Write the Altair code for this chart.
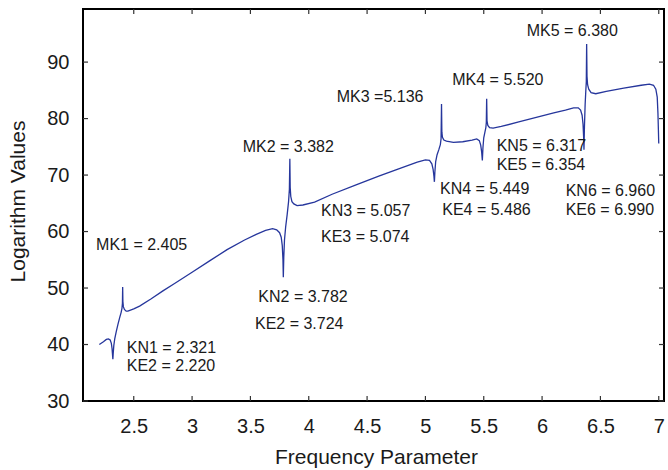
import altair as alt
import pandas as pd

# ---- data ----
curve_x = [2.205, 2.24, 2.265, 2.283, 2.298, 2.308, 2.314, 2.318, 2.321, 2.324, 2.329, 2.337, 2.35, 2.365,
           2.38, 2.392, 2.399, 2.403, 2.405, 2.407, 2.411, 2.42, 2.435, 2.45, 2.5, 2.55, 2.65, 2.75, 2.85,
           3.0, 3.15, 3.3, 3.45, 3.55, 3.63, 3.69, 3.725, 3.75, 3.764, 3.773, 3.779, 3.782, 3.786, 3.792,
           3.802, 3.815, 3.827, 3.834, 3.838, 3.841, 3.846, 3.856, 3.872, 3.9, 3.95, 4.05, 4.2, 4.4, 4.6,
           4.8, 4.93, 5.0, 5.035, 5.055, 5.066, 5.073, 5.077, 5.081, 5.088, 5.1, 5.115, 5.128, 5.134, 5.138,
           5.141, 5.146, 5.158, 5.18, 5.24, 5.32, 5.4, 5.44, 5.462, 5.474, 5.482, 5.488, 5.493, 5.5, 5.51,
           5.518, 5.522, 5.525, 5.528, 5.535, 5.55, 5.58, 5.65, 5.8, 5.95, 6.1, 6.2, 6.27, 6.31, 6.33, 6.343,
           6.351, 6.356, 6.359, 6.363, 6.369, 6.375, 6.379, 6.382, 6.385, 6.39, 6.4, 6.42, 6.46, 6.55, 6.7,
           6.85, 6.92, 6.955, 6.975, 6.987, 6.993, 6.997, 7.0]
curve_y = [40.0, 40.5, 40.9, 41.0, 40.8, 40.2, 39.3, 38.2, 37.4, 38.4, 39.8, 41.0, 42.3, 43.6,
           44.8, 45.7, 46.4, 47.3, 50.2, 47.6, 46.7, 46.2, 45.9, 45.9, 46.3, 46.8, 48.1, 49.5, 50.8,
           52.8, 54.8, 56.8, 58.5, 59.5, 60.2, 60.5, 60.3, 59.8, 59.0, 57.5, 55.0, 51.9, 55.5, 58.5,
           60.8, 63.0, 65.3, 67.5, 72.9, 67.8, 66.2, 65.3, 64.9, 64.6, 64.7, 65.2, 66.6, 68.2, 69.8,
           71.3, 72.3, 72.7, 72.6, 72.0, 71.0, 69.8, 68.8, 70.5, 72.4, 73.6, 74.5, 75.4, 76.4, 82.6,
           77.6, 76.7, 76.2, 76.0, 75.8, 75.9, 76.2, 76.4, 76.1, 75.3, 74.1, 72.6, 74.8, 76.6, 77.6,
           78.4, 79.3, 83.5, 79.6, 78.8, 78.4, 78.3, 78.6, 79.4, 80.2, 81.0, 81.5, 81.9, 81.9, 81.5, 80.6,
           79.0, 76.8, 74.5, 78.5, 82.5, 85.0, 86.5, 93.2, 87.5, 86.0, 85.2, 84.6, 84.4, 84.8, 85.4,
           85.9, 86.1, 85.9, 85.2, 83.8, 81.0, 78.0, 75.6]

label_text = ["MK1 = 2.405", "KN1 = 2.321", "KE2 = 2.220", "MK2 = 3.382", "KN2 = 3.782", "KE2 = 3.724",
              "KN3 = 5.057", "KE3 = 5.074", "MK3 =5.136", "MK4 = 5.520", "MK5 = 6.380",
              "KN4 = 5.449", "KE4 = 5.486", "KN5 = 6.317", "KE5 = 6.354", "KN6 = 6.960", "KE6 = 6.990"]
label_x = [2.177, 2.44, 2.44, 3.434, 3.568, 3.539, 4.105, 4.105, 4.24, 5.23, 5.868,
           5.125, 5.144, 5.611, 5.611, 6.202, 6.202]
label_y = [57.6, 39.3, 36.2, 75.0, 48.4, 43.7, 63.6, 59.0, 83.8, 86.9, 95.5,
           67.6, 63.8, 75.1, 71.7, 67.2, 63.9]

x_ticks = [2.5, 3, 3.5, 4, 4.5, 5, 5.5, 6, 6.5, 7]
y_ticks = [30, 40, 50, 60, 70, 80, 90]
x_domain = [2.065, 7.045]
y_domain = [30, 99.4]

W, H = 581, 392
FONT = "Liberation Sans"

curve = pd.DataFrame({"x": curve_x, "y": curve_y, "i": list(range(len(curve_x)))})
labels = pd.DataFrame({"t": label_text, "x": label_x, "y": label_y})
xt = pd.DataFrame({"v": x_ticks})
yt = pd.DataFrame({"v": y_ticks})

xs = alt.Scale(domain=x_domain, nice=False, zero=False)
ys = alt.Scale(domain=y_domain, nice=False, zero=False)

x_axis = alt.Axis(values=x_ticks, format="~g", title="Frequency Parameter", labelPadding=15,
                  titleX=293, titleY=56, titleBaseline="middle", titleAlign="center")
y_axis = alt.Axis(values=y_ticks, title="Logarithm Values", labelPadding=14,
                  titleX=-65, titleY=192, titleAngle=270, titleBaseline="middle", titleAlign="center")

line = alt.Chart(curve).mark_line(color="#26369c", strokeWidth=1.3).encode(
    x=alt.X("x:Q", scale=xs, axis=x_axis),
    y=alt.Y("y:Q", scale=ys, axis=y_axis),
    order="i:Q",
)

text = alt.Chart(labels).mark_text(align="left", baseline="middle", font=FONT, fontSize=16,
                                   color="#1a1a1a").encode(
    x=alt.X("x:Q", scale=xs), y=alt.Y("y:Q", scale=ys), text="t:N")

tick_style = dict(color="#333333", strokeWidth=1.2)
bt = alt.Chart(xt).mark_rule(**tick_style).encode(
    x=alt.X("v:Q", scale=xs), y=alt.value(H), y2=alt.value(H - 5))
tt = alt.Chart(xt).mark_rule(**tick_style).encode(
    x=alt.X("v:Q", scale=xs), y=alt.value(0), y2=alt.value(5))
lt = alt.Chart(yt).mark_rule(**tick_style).encode(
    y=alt.Y("v:Q", scale=ys), x=alt.value(0), x2=alt.value(5))
rt = alt.Chart(yt).mark_rule(**tick_style).encode(
    y=alt.Y("v:Q", scale=ys), x=alt.value(W), x2=alt.value(W - 5))

chart = alt.layer(bt, tt, lt, rt, line, text).properties(
    width=W, height=H,
    autosize=alt.AutoSizeParams(type="none"),
    padding={"left": 83, "top": 9, "right": 4, "bottom": 69},
    background="white",
).configure_view(stroke="black", strokeWidth=2).configure_axis(
    ticks=False, domain=False, grid=False,
    labelFont=FONT, labelFontSize=20, labelColor="#1a1a1a",
    titleFont=FONT, titleFontSize=21, titleFontWeight="normal", titleColor="#1a1a1a",
)

chart.save("out.html", embed_options={"renderer": "svg", "actions": False})
